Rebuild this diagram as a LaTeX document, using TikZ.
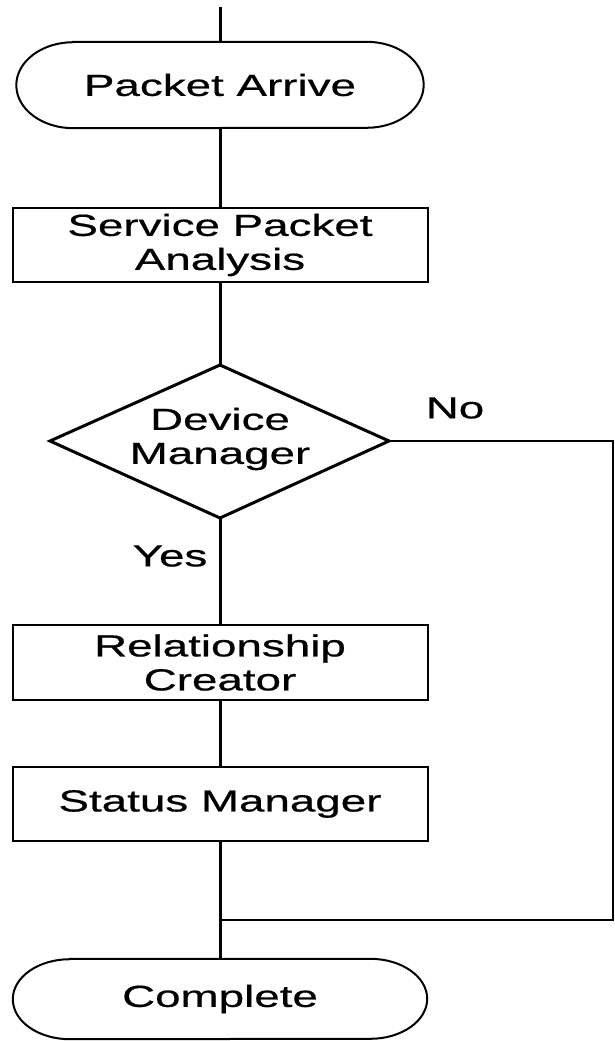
\documentclass[tikz,border=0pt]{standalone}
\usepackage{fontspec}
\setmainfont{Liberation Sans}[FakeStretch=1.5, FakeBold=0.6]
\begin{document}
\begin{tikzpicture}[x=1pt,y=1pt,
  lbl/.style={inner sep=0pt, align=center, font=\fontsize{30.5}{34}\selectfont},
  boxnode/.style={lbl, draw, line width=2pt, rectangle, minimum width=415pt, minimum height=74pt},
  outline/.style={line width=2pt},
  conn/.style={line width=3pt},
  back/.style={line width=2pt}]
\useasboundingbox (0,0) rectangle (614,-1041);
\newcommand{\stadiumoutline}[3]{%
  \draw[outline] ([xshift=#2]#1.north west) -- ([xshift=-#2]#1.north east)
    arc[start angle=90, end angle=-90, x radius=#2, y radius=#3]
    -- ([xshift=#2]#1.south west)
    arc[start angle=270, end angle=90, x radius=#2, y radius=#3] -- cycle;}
% nodes
\coordinate (start) at (220,-7);
\node[lbl, minimum width=407pt, minimum height=86pt] (PA) at (220,-85) {Packet Arrive};
\stadiumoutline{PA}{57pt}{43pt}
\node[boxnode] (SPA) at (220,-245) {Service Packet\\Analysis};
\coordinate (dtop) at (220,-365);
\coordinate (dbot) at (220,-518);
\coordinate (dleft) at (50,-441);
\coordinate (dright) at (389,-441);
\draw[conn, line join=miter] (dtop) -- (dright) -- (dbot) -- (dleft) -- cycle;
\node[lbl] (DM) at (220,-439) {Device\\Manager};
\node[boxnode, minimum height=75pt] (RC) at (220,-662.5) {Relationship\\Creator};
\node[boxnode] (SM) at (220,-804) {Status Manager};
\node[lbl, minimum width=414pt, minimum height=80pt] (CO) at (220,-999) {Complete};
\stadiumoutline{CO}{57pt}{40pt}
\coordinate (J) at (220,-920);
\coordinate (r1) at (613,-441);
\coordinate (r2) at (613,-920);
\node[lbl] (no) at (455,-408) {No};
\node[lbl] (yes) at (170,-556) {Yes};
% connectors
\draw[conn] (start) -- (PA.north);
\draw[conn] (PA.south) -- (SPA.north);
\draw[conn] (SPA.south) -- (dtop);
\draw[conn] (dbot) -- (RC.north);
\draw[conn] (RC.south) -- (SM.north);
\draw[conn] (SM.south) -- (CO.north);
\draw[back] (dright) -- (r1) -- (r2) -- (J);
\end{tikzpicture}
\end{document}
